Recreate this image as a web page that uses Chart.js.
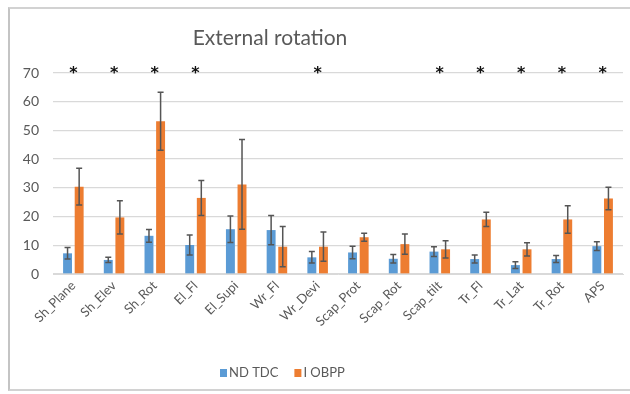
<!DOCTYPE html>
<html>
<head>
<meta charset="utf-8">
<script src="https://cdn.jsdelivr.net/npm/chart.js@4.4.1/dist/chart.umd.min.js"></script>
<style>
  html, body { margin: 0; padding: 0; background: #ffffff; overflow: hidden; width: 630px; height: 394px; position: relative; }
  #frame { position: absolute; left: 8px; top: 7px; width: 700px; height: 384px;
           border-left: 2px solid #c4c4c4; border-top: 2px solid #d2d2d2; border-bottom: 2px solid #d2d2d2; box-sizing: border-box; }
  #c { position: absolute; left: 0; top: 0; }
</style>
</head>
<body>
<div id="frame"></div>
<canvas id="c" width="630" height="394"></canvas>
<script>
const chartTitle = 'External rotation';
const categories = ['Sh_Plane','Sh_Elev','Sh_Rot','El_Fl','El_Supi','Wr_Fl','Wr_Devi','Scap_Prot','Scap_Rot','Scap_tilt','Tr_Fl','Tr_Lat','Tr_Rot','APS'];
const seriesNames = ['ND TDC', 'I OBPP'];
const ndTdc    = [7.2, 4.9, 13.3, 10.1, 15.6, 15.3, 5.8, 7.5, 5.3, 7.8, 5.2, 3.1, 5.2, 9.7];
const ndTdcErr = [2.0, 0.9, 2.2, 3.5, 4.6, 5.1, 2.0, 2.2, 1.5, 1.7, 1.4, 1.2, 1.2, 1.5];
const iObpp    = [30.4, 19.7, 53.2, 26.5, 31.2, 9.5, 9.5, 12.8, 10.4, 8.6, 19.0, 8.6, 19.0, 26.3];
const iObppErr = [6.4, 5.8, 10.1, 6.1, 15.6, 7.0, 5.1, 1.4, 3.5, 3.0, 2.5, 2.3, 4.8, 3.9];
const significance = ['*','*','*','*','','','*','','','*','*','*','*','*'];
const yTicks = [0, 10, 20, 30, 40, 50, 60, 70];

const errors = [ndTdcErr, iObppErr];
const FONT = 'Lato, "Open Sans", sans-serif';
const GREY = '#595959';

const overlay = {
  id: 'overlay',
  afterDatasetsDraw(chart) {
    const ctx = chart.ctx, y = chart.scales.y;
    ctx.save();
    ctx.strokeStyle = '#555555';
    ctx.lineWidth = 1.5;
    chart.data.datasets.forEach((ds, di) => {
      const meta = chart.getDatasetMeta(di);
      meta.data.forEach((bar, i) => {
        const v = ds.data[i], e = errors[di][i];
        const yt = y.getPixelForValue(v + e), yb = y.getPixelForValue(v - e);
        const cap = 3;
        ctx.beginPath();
        ctx.moveTo(bar.x, yt); ctx.lineTo(bar.x, yb);
        ctx.moveTo(bar.x - cap, yt); ctx.lineTo(bar.x + cap, yt);
        ctx.moveTo(bar.x - cap, yb); ctx.lineTo(bar.x + cap, yb);
        ctx.stroke();
      });
    });
    ctx.restore();
  },
  afterDraw(chart) {
    const ctx = chart.ctx, x = chart.scales.x, y = chart.scales.y;
    ctx.save();
    // title
    ctx.fillStyle = GREY;
    ctx.font = '21px ' + FONT;
    ctx.textAlign = 'center';
    ctx.textBaseline = 'middle';
    ctx.fillText(chartTitle, 270, 38);
    // significance markers
    ctx.fillStyle = '#111111';
    ctx.font = 'bold 16px "DejaVu Sans", sans-serif';
    ctx.textBaseline = 'middle';
    significance.forEach((s, i) => {
      if (s) ctx.fillText(s, x.getPixelForValue(i), y.getPixelForValue(yTicks[yTicks.length - 1]) + 1);
    });
    // legend
    ctx.font = '13px ' + FONT;
    ctx.textAlign = 'left';
    ctx.textBaseline = 'middle';
    const ly = 373;
    let lx = 220;
    chart.data.datasets.forEach((ds) => {
      ctx.fillStyle = ds.backgroundColor;
      ctx.fillRect(lx, ly - 4, 7, 8);
      ctx.fillStyle = GREY;
      ctx.fillText(ds.label, lx + 9, ly);
      lx += 9 + ctx.measureText(ds.label).width + 16;
    });
    ctx.restore();
  }
};

new Chart(document.getElementById('c'), {
  type: 'bar',
  data: {
    labels: categories,
    datasets: [
      { label: seriesNames[0], data: ndTdc, backgroundColor: '#5B9BD5' },
      { label: seriesNames[1], data: iObpp, backgroundColor: '#ED7D31' }
    ]
  },
  options: {
    responsive: false,
    animation: false,
    layout: { padding: { left: 8, right: 7, top: 73, bottom: 58 } },
    categoryPercentage: 0.57,
    barPercentage: 0.77,
    plugins: { legend: { display: false }, title: { display: false }, tooltip: { enabled: false } },
    scales: {
      x: {
        grid: { display: false, drawTicks: false },
        border: { display: true, color: '#d9d9d9' },
        ticks: { color: GREY, font: { family: FONT, size: 13 }, minRotation: 45, maxRotation: 45, padding: 4 },
        afterFit(s) { s.height = 62; }
      },
      y: {
        min: 0, max: 70,
        grid: { color: '#d9d9d9', lineWidth: 1.3, drawTicks: false },
        border: { display: false },
        ticks: { stepSize: 10, color: GREY, font: { family: FONT, size: 14 }, padding: 14,
                 callback: (v) => yTicks.includes(v) ? String(v) : '' },
        afterFit(s) { s.width = 45; }
      }
    }
  },
  plugins: [overlay]
});
</script>
</body>
</html>
